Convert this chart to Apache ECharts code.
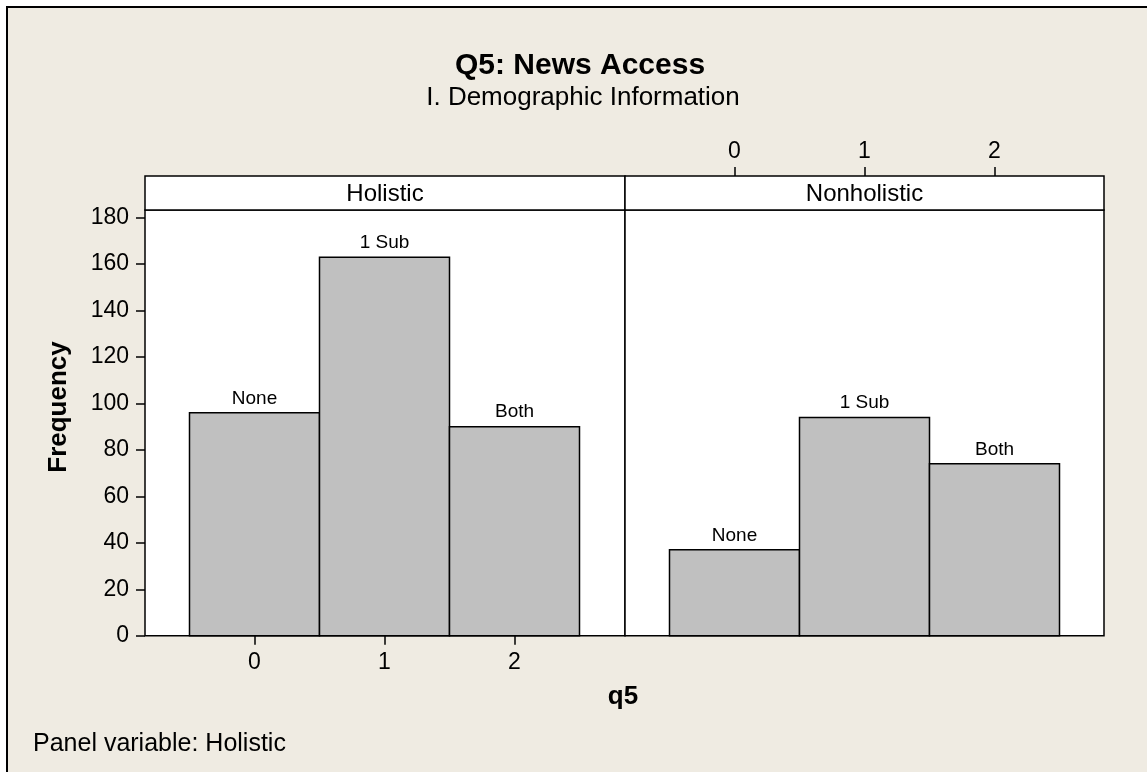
<!DOCTYPE html>
<html><head><meta charset="utf-8">
<script src="https://cdn.jsdelivr.net/npm/echarts@6/dist/echarts.min.js"></script>
<style>html,body{margin:0;padding:0;background:#fff}#c{width:1147px;height:772px}</style>
</head><body><div id="c"></div>
<script>
const titleText = 'Q5: News Access';
const subtitleText = 'I. Demographic Information';
const panels = ['Holistic', 'Nonholistic'];
const q5Values = ['0', '1', '2'];
const barLabels = ['None', '1 Sub', 'Both'];
const holisticFreq = [96, 163, 90];
const nonholisticFreq = [37, 94, 74];
const xAxisTitle = 'q5';
const yAxisTitle = 'Frequency';
const footnote = 'Panel variable: Holistic';

const FONT = "'Liberation Sans', Arial, sans-serif";
const chart = echarts.init(document.getElementById('c'), null, {renderer: 'canvas'});

const tickStyle = {show: true, inside: false, length: 9, alignWithLabel: true, lineStyle: {color: '#000', width: 1.5}};
const labelStyle = {fontSize: 23, color: '#000', fontFamily: FONT};
const plotTop = 217.7, plotBottom = 772 - 635.7;

function renderBar(params, api) {
  const idx = api.value(0), v = api.value(1);
  const c = api.coord([idx, v]);
  const base = api.coord([idx, 0]);
  const w = api.size([1, 0])[0];
  return {
    type: 'group',
    children: [
      {type: 'rect', shape: {x: c[0] - w / 2, y: c[1], width: w, height: base[1] - c[1]},
       style: {fill: '#c0c0c0', stroke: '#000', lineWidth: 1.5}},
      {type: 'text', x: c[0], y: c[1] - 5,
       style: {text: barLabels[params.dataIndex], fontSize: 19, fontFamily: FONT, fill: '#000',
               align: 'center', verticalAlign: 'bottom'}}
    ]
  };
}

function barSeries(data, xi) {
  return {
    type: 'custom', xAxisIndex: xi, yAxisIndex: xi, clip: false, z: 5,
    renderItem: renderBar,
    data: data.map((v, i) => [i, v])
  };
}

const option = {
  backgroundColor: '#EFEBE2',
  animation: false,
  grid: [
    {left: 189.5, right: 1147 - 579.5, top: plotTop, bottom: plotBottom},
    {left: 669.5, right: 1147 - 1059.5, top: plotTop, bottom: plotBottom}
  ],
  xAxis: [
    {gridIndex: 0, type: 'category', data: q5Values, position: 'bottom', z: 10,
     axisLine: {show: false, onZero: false}, splitLine: {show: false},
     axisTick: Object.assign({interval: 0}, tickStyle),
     axisLabel: Object.assign({interval: 0, margin: 15}, labelStyle)},
    {gridIndex: 1, type: 'category', data: q5Values, position: 'top', offset: plotTop - 176, z: 10,
     axisLine: {show: false, onZero: false}, splitLine: {show: false},
     axisTick: Object.assign({interval: 0}, tickStyle),
     axisLabel: Object.assign({interval: 0, margin: 13}, labelStyle)}
  ],
  yAxis: [
    {gridIndex: 0, type: 'value', min: 0, max: 180, interval: 20, position: 'left', offset: 189.5 - 145, z: 10,
     axisLine: {show: false, onZero: false}, splitLine: {show: false},
     axisTick: {show: true, inside: false, length: 9, lineStyle: {color: '#000', width: 1.5}},
     axisLabel: Object.assign({margin: 16}, labelStyle)},
    {gridIndex: 1, type: 'value', min: 0, max: 180, interval: 20, show: false, splitLine: {show: false}}
  ],
  series: [barSeries(holisticFreq, 0), barSeries(nonholisticFreq, 1)],
  graphic: [
    {type: 'rect', z: -1, shape: {x: 0, y: 0, width: 1147, height: 7}, style: {fill: '#fff'}, silent: true},
    {type: 'rect', z: -1, shape: {x: 0, y: 0, width: 7, height: 772}, style: {fill: '#fff'}, silent: true},
    {type: 'polyline', z: -1, shape: {points: [[7, 772], [7, 7], [1147, 7]]}, style: {stroke: '#000', lineWidth: 2, fill: null}, silent: true},
    {type: 'rect', z: -1, shape: {x: 145, y: 210, width: 480, height: 425.7}, style: {fill: '#fff', stroke: '#000', lineWidth: 1.5}, silent: true},
    {type: 'rect', z: -1, shape: {x: 625, y: 210, width: 479, height: 425.7}, style: {fill: '#fff', stroke: '#000', lineWidth: 1.5}, silent: true},
    {type: 'rect', z: -1, shape: {x: 145, y: 176, width: 480, height: 34}, style: {fill: '#fff', stroke: '#000', lineWidth: 1.5}, silent: true},
    {type: 'rect', z: -1, shape: {x: 625, y: 176, width: 479, height: 34}, style: {fill: '#fff', stroke: '#000', lineWidth: 1.5}, silent: true},
    {type: 'text', x: 385, y: 194, style: {text: panels[0], fontSize: 24, fontFamily: FONT, fill: '#000', align: 'center', verticalAlign: 'middle'}},
    {type: 'text', x: 864.5, y: 194, style: {text: panels[1], fontSize: 24, fontFamily: FONT, fill: '#000', align: 'center', verticalAlign: 'middle'}},
    {type: 'text', x: 580, y: 66, style: {text: titleText, fontSize: 30, fontWeight: 'bold', fontFamily: FONT, fill: '#000', align: 'center', verticalAlign: 'middle'}},
    {type: 'text', x: 583, y: 98, style: {text: subtitleText, fontSize: 26, fontFamily: FONT, fill: '#000', align: 'center', verticalAlign: 'middle'}},
    {type: 'text', x: 623, y: 697, style: {text: xAxisTitle, fontSize: 26, fontWeight: 'bold', fontFamily: FONT, fill: '#000', align: 'center', verticalAlign: 'middle'}},
    {type: 'text', x: 59, y: 407, rotation: Math.PI / 2, style: {text: yAxisTitle, fontSize: 26, fontWeight: 'bold', fontFamily: FONT, fill: '#000', align: 'center', verticalAlign: 'middle'}},
    {type: 'text', x: 33, y: 744, style: {text: footnote, fontSize: 25, fontFamily: FONT, fill: '#000', align: 'left', verticalAlign: 'middle'}}
  ]
};
chart.setOption(option);
</script>
</body></html>
